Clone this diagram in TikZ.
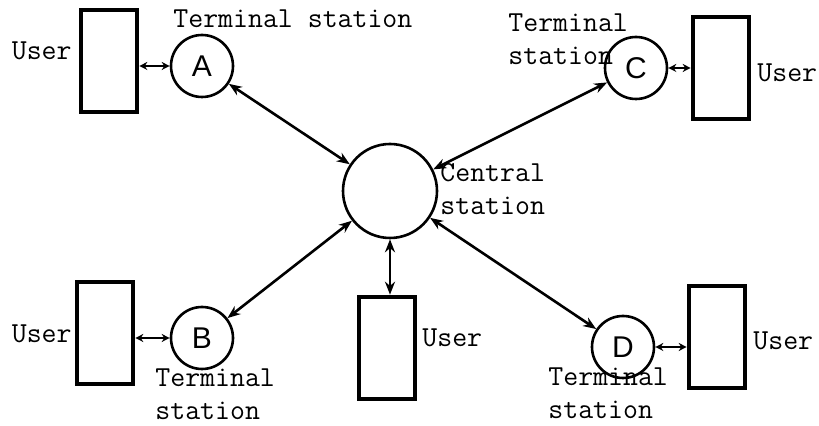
\documentclass[tikz,border=0pt]{standalone}
\usepackage{fontspec}
\usepackage{tikz}
\usetikzlibrary{arrows.meta, positioning}
\newfontfamily\lettersf{Liberation Sans}

\begin{document}
\begin{tikzpicture}[
  x=0.5pt, y=-0.5pt,
  station/.style = {circle, draw=black, line width=1.3pt, inner sep=0pt,
                    minimum size=31pt, font=\lettersf\fontsize{15}{15}\selectfont},
  hub/.style     = {station, minimum size=47pt},
  userbox/.style = {rectangle, draw=black, line width=2.3pt, inner sep=0pt,
                    minimum width=28pt, minimum height=51pt},
  note/.style    = {inner sep=0pt, align=left,
                    font=\ttfamily\fontsize{14.5}{16.5}\selectfont},
  link/.style    = {{Stealth[length=6.5pt,width=5pt]}-{Stealth[length=6.5pt,width=5pt]},
                    line width=1.3pt},
  tap/.style     = {{Stealth[length=4pt,width=4pt]}-{Stealth[length=4pt,width=4pt]},
                    line width=1.2pt},
]
  \useasboundingbox (0,0) rectangle (819,426);

  \node[hub]     (hub)  at (390,191) {};
  \node[station] (A)    at (202,66)  {A};
  \node[station] (B)    at (202,338) {B};
  \node[station] (C)    at (636,68)  {C};
  \node[station] (D)    at (623,347) {D};

  \node[userbox] (boxA) at (109,61)  {};
  \node[userbox] (boxB) at (105,333) {};
  \node[userbox] (boxC) at (721,68)  {};
  \node[userbox] (boxD) at (717,337) {};
  \node[userbox] (boxM) at (387,348) {};

  \node[note, anchor=base east] (userA) at (72,60)  {User};
  \node[note, anchor=base east] (userB) at (72,343) {User};
  \node[note, anchor=base west] (userC) at (757,82) {User};
  \node[note, anchor=base west] (userD) at (753,350) {User};
  \node[note, anchor=base west] (userM) at (422,347) {User};

  \node[note, anchor=base west] (termA) at (173,28)  {Terminal station};
  \node[note, anchor=base west] (termC) at (508,65)  {Terminal\\station};
  \node[note, anchor=base west] (termB) at (155,420) {Terminal\\station};
  \node[note, anchor=base west] (termD) at (548,419) {Terminal\\station};
  \node[note, anchor=base west] (cent)  at (440,215) {Central\\station};

  \draw[link] (A) -- (hub);
  \draw[link] (B) -- (hub);
  \draw[link] (C) -- (hub);
  \draw[link] (D) -- (hub);
  \draw[link] (hub.south) -- (hub.south |- boxM.north);

  \draw[tap] (A.west) -- (A.west -| boxA.east);
  \draw[tap] (B.west) -- (B.west -| boxB.east);
  \draw[tap] (C.east) -- (C.east -| boxC.west);
  \draw[tap] (D.east) -- (D.east -| boxD.west);
\end{tikzpicture}
\end{document}
